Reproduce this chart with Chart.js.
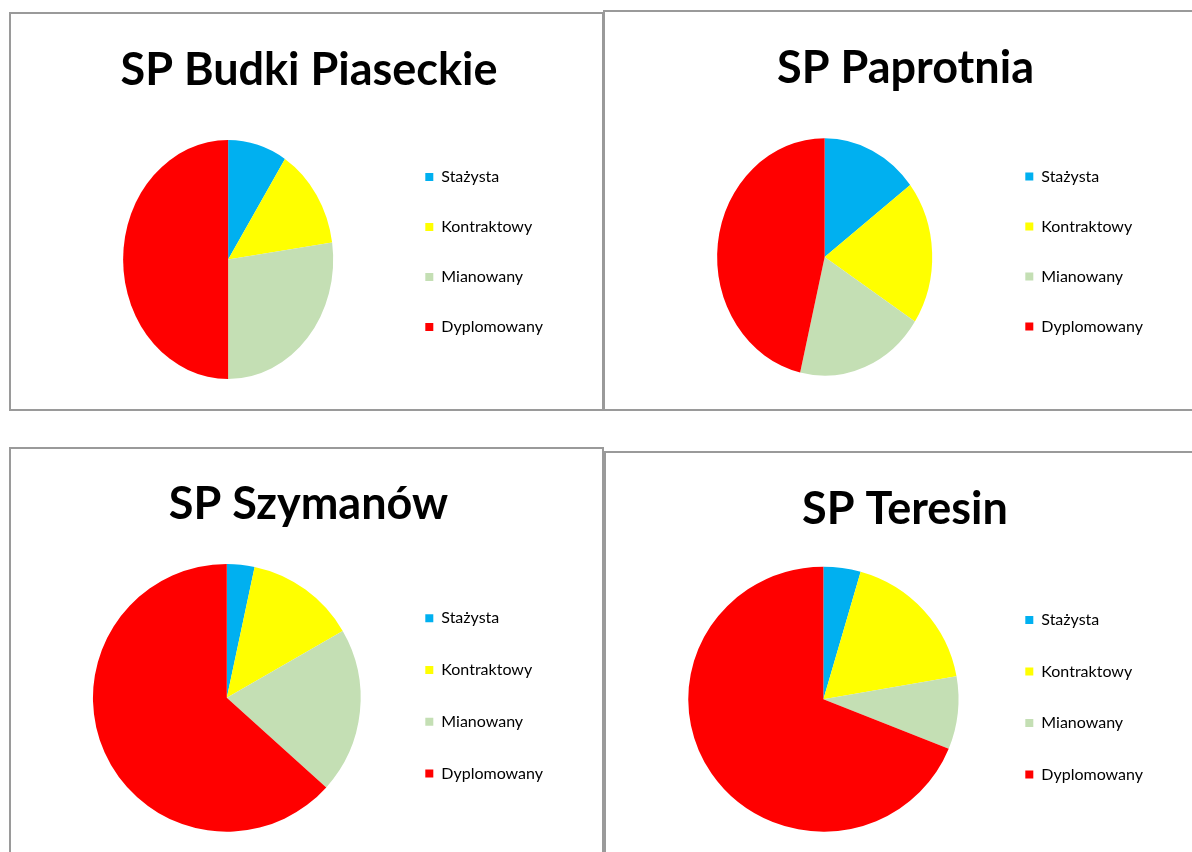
<!DOCTYPE html>
<html>
<head>
<meta charset="utf-8">
<script src="https://cdn.jsdelivr.net/npm/chart.js@4.4.0/dist/chart.umd.min.js"></script>
<style>
    body { margin: 0; background: #fff; width: 1192px; height: 852px; overflow: hidden; position: relative; }
    .frame { position: absolute; border: 2px solid #9a9a9a; box-sizing: border-box; }
    canvas { position: absolute; }
</style>
</head>
<body>
<div class="frame" style="left:9px;top:12px;width:595px;height:399px"></div>
<div class="frame" style="left:603px;top:10px;width:600px;height:401px"></div>
<div class="frame" style="left:9px;top:447px;width:595px;height:420px"></div>
<div class="frame" style="left:604px;top:451px;width:600px;height:420px"></div>

<canvas id="chartBudki" width="592" height="396" style="left:10px;top:13px"></canvas>
<canvas id="chartPaprotnia" width="587" height="398" style="left:605px;top:11px"></canvas>
<canvas id="chartSzymanow" width="592" height="403" style="left:10px;top:449px"></canvas>
<canvas id="chartTeresin" width="586" height="399" style="left:606px;top:453px"></canvas>

<script>
// teacher grades per school
const categories = ['Stażysta', 'Kontraktowy', 'Mianowany', 'Dyplomowany'];
const sliceColors = ['#00B0F0', '#FFFF00', '#C4DFB4', '#FF0000'];

const budkiPiaseckie = [2, 3, 6, 11];
const paprotnia = [6, 8, 8, 19];
const szymanow = [1, 4, 6, 19];
const teresin = [2, 8, 4, 31];

// the pies in the top row are a little narrower than they are tall
const squashPlugin = {
    id: 'squash',
    beforeDatasetsDraw(chart, args, opts) {
        const arc = chart.getDatasetMeta(0).data[0];
        const ctx = chart.ctx;
        ctx.save();
        ctx.translate(arc.x, 0);
        ctx.scale(opts.x || 1, 1);
        ctx.translate(-arc.x, 0);
    },
    afterDatasetsDraw(chart) {
        chart.ctx.restore();
    }
};

function makePie(id, title, values, o) {
    return new Chart(document.getElementById(id), {
        type: 'pie',
        data: {
            labels: categories,
            datasets: [{
                data: values,
                backgroundColor: sliceColors,
                borderWidth: 0
            }]
        },
        plugins: [squashPlugin],
        options: {
            responsive: false,
            animation: false,
            layout: {
                padding: { left: o.padL, right: o.padR, top: 0, bottom: o.padB }
            },
            plugins: {
                squash: { x: o.squash },
                tooltip: { enabled: false },
                title: {
                    display: true,
                    text: title,
                    color: '#000',
                    font: { family: 'Lato', size: 45, weight: 'bold' },
                    padding: { top: o.titleTop, bottom: o.titleBottom }
                },
                legend: {
                    display: true,
                    position: 'right',
                    align: 'center',
                    fullSize: false,
                    // empty legend title, only used to lift the items a bit
                    title: {
                        display: true,
                        text: '',
                        font: { size: 1, lineHeight: 1 },
                        padding: { top: 0, bottom: o.legendLift }
                    },
                    labels: {
                        boxWidth: 8,
                        boxHeight: 8,
                        padding: o.legendGap,
                        color: '#000',
                        font: { family: 'Lato', size: 16 }
                    }
                }
            }
        }
    });
}

makePie('chartBudki', 'SP Budki Piaseckie', budkiPiaseckie,
    { padL: 55, padR: 49, padB: 30, titleTop: 30, titleBottom: 43, legendGap: 34, legendLift: -16, squash: 0.879 });
makePie('chartPaprotnia', 'SP Paprotnia', paprotnia,
    { padL: 53, padR: 39, padB: 33.3, titleTop: 30, titleBottom: 43.3, legendGap: 34, legendLift: -12, squash: 0.906 });
makePie('chartSzymanow', 'SP Szymanów', szymanow,
    { padL: 54, padR: 49, padB: 20.3, titleTop: 28.5, titleBottom: 32.5, legendGap: 35.7, legendLift: -5, squash: 1 });
makePie('chartTeresin', 'SP Teresin', teresin,
    { padL: 51, padR: 39, padB: 20.3, titleTop: 29, titleBottom: 30.7, legendGap: 35.5, legendLift: -5, squash: 1.02 });
</script>
</body>
</html>
